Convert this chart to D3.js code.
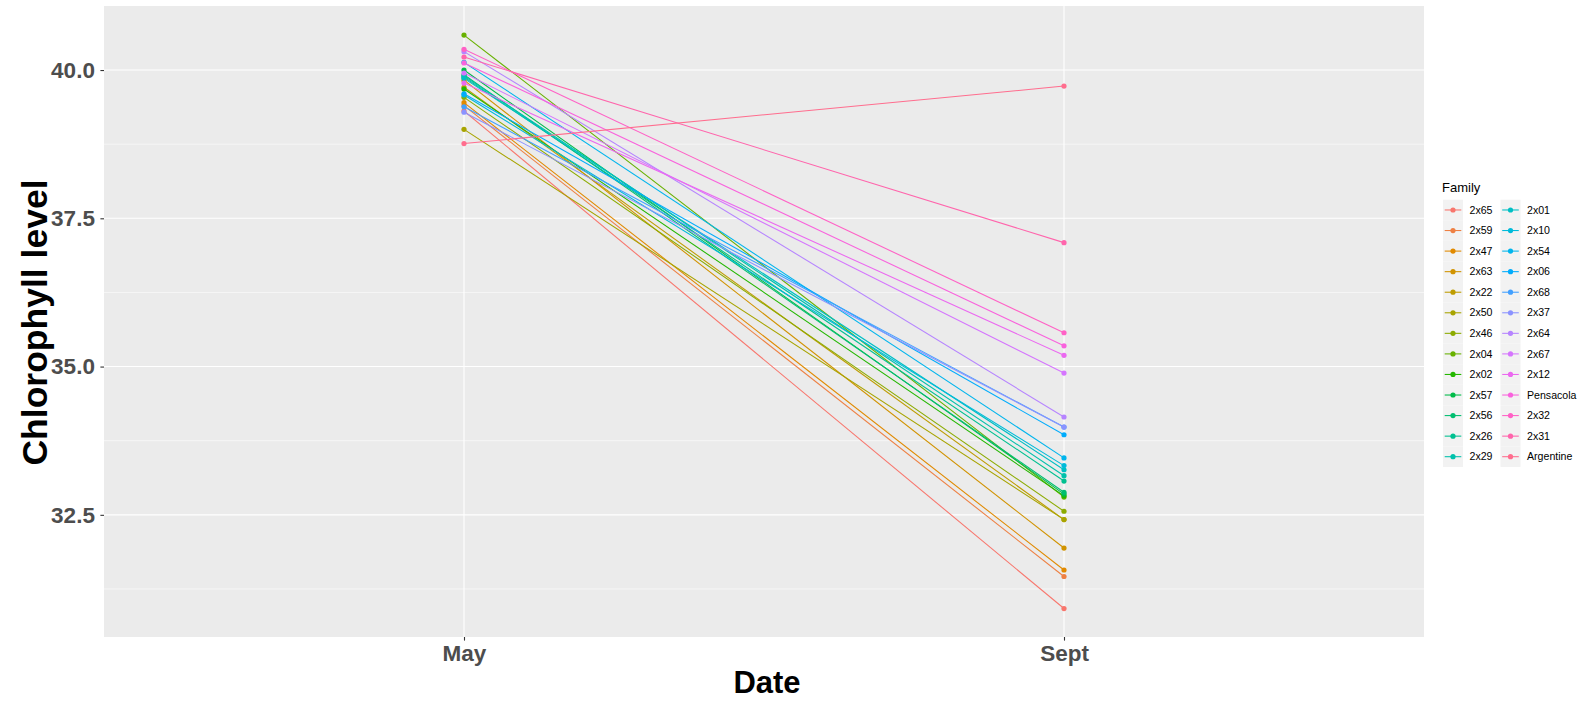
<!DOCTYPE html>
<html>
<head>
<meta charset="utf-8">
<script src="https://cdn.jsdelivr.net/npm/d3@7"></script>
<style>
  html, body { margin: 0; padding: 0; background: #ffffff; }
  svg { display: block; }
  text { font-family: "Liberation Sans", Arial, sans-serif; }
</style>
</head>
<body>
<svg id="chart" width="1589" height="701"></svg>
<script>
// ---------------- data ----------------
const families = ["2x65","2x59","2x47","2x63","2x22","2x50","2x46","2x04","2x02","2x57","2x56","2x26","2x29",
                  "2x01","2x10","2x54","2x06","2x68","2x37","2x64","2x67","2x12","Pensacola","2x32","2x31","Argentine"];
const dates = ["May", "Sept"];
const mayValues  = [39.31, 39.40, 39.45, 39.83, 39.71, 39.00, 39.54, 40.59, 39.68, 40.00, 39.92, 39.88, 39.90,
                    39.86, 39.58, 40.13, 39.60, 39.38, 39.29, 40.31, 39.95, 39.78, 40.12, 40.35, 40.22, 38.76];
const septValues = [30.92, 31.46, 31.57, 31.94, 32.42, 32.42, 32.56, 32.80, 32.82, 32.85, 32.88, 33.07, 33.16,
                    33.26, 33.33, 33.46, 33.85, 33.98, 33.98, 34.15, 34.89, 35.19, 35.35, 35.57, 37.09, 39.73];
const yTicks = [32.5, 35.0, 37.5, 40.0];
const yMinorTicks = [31.25, 33.75, 36.25, 38.75];
const xTitle = "Date";
const yTitle = "Chlorophyll level";
const legendTitle = "Family";

// ggplot2 hue palette (polar LUV -> sRGB)
function hclLuv(h, c, l) {
  const Xn = 95.047, Yn = 100.0, Zn = 108.883;
  const Y = l > 7.999592 ? Yn * Math.pow((l + 16) / 116, 3) : Yn * l / 903.3;
  const hr = h * Math.PI / 180;
  const U = c * Math.cos(hr), V = c * Math.sin(hr);
  const den = Xn + 15 * Yn + 3 * Zn;
  const uN = 4 * Xn / den, vN = 9 * Yn / den;
  const u = U / (13 * l) + uN, v = V / (13 * l) + vN;
  const X = 9 * Y * u / (4 * v);
  const Z = -X / 3 - 5 * Y + 3 * Y / v;
  const x = X / 100, y = Y / 100, z = Z / 100;
  let r = 3.240479 * x - 1.537150 * y - 0.498535 * z;
  let g = -0.969256 * x + 1.875992 * y + 0.041556 * z;
  let b = 0.055648 * x - 0.204043 * y + 1.057311 * z;
  const gam = t => t <= 0.0031308 ? 12.92 * t : 1.055 * Math.pow(t, 1 / 2.4) - 0.055;
  const cl = t => Math.max(0, Math.min(1, gam(t)));
  return d3.rgb(cl(r) * 255, cl(g) * 255, cl(b) * 255).formatHex();
}
const n = families.length;
const palette = families.map((f, i) => hclLuv(15 + i * 360 / n, 100, 65));
const color = d3.scaleOrdinal().domain(families).range(palette);

const rows = families.map((f, i) => ({ family: f, values: [mayValues[i], septValues[i]] }));

// ---------------- layout ----------------
const svg = d3.select("#chart");
const panel = { left: 104, right: 1424, top: 6, bottom: 637 };

const x = d3.scalePoint().domain(dates).range([panel.left, panel.right]).padding(0.6);
const y = d3.scaleLinear().domain([30.44, 41.08]).range([panel.bottom, panel.top]);

// panel background
svg.append("rect")
  .attr("x", panel.left).attr("y", panel.top)
  .attr("width", panel.right - panel.left).attr("height", panel.bottom - panel.top)
  .attr("fill", "#EBEBEB");

// minor grid
svg.append("g").selectAll("line").data(yMinorTicks).join("line")
  .attr("x1", panel.left).attr("x2", panel.right)
  .attr("y1", d => y(d)).attr("y2", d => y(d))
  .attr("stroke", "#ffffff").attr("stroke-width", 0.55);

// major grid
svg.append("g").selectAll("line").data(yTicks).join("line")
  .attr("x1", panel.left).attr("x2", panel.right)
  .attr("y1", d => y(d)).attr("y2", d => y(d))
  .attr("stroke", "#ffffff").attr("stroke-width", 1.1);
svg.append("g").selectAll("line").data(dates).join("line")
  .attr("x1", d => x(d)).attr("x2", d => x(d))
  .attr("y1", panel.top).attr("y2", panel.bottom)
  .attr("stroke", "#ffffff").attr("stroke-width", 1.1);

// lines
const line = d3.line().x((d, i) => x(dates[i])).y(d => y(d));
svg.append("g").selectAll("path").data(rows).join("path")
  .attr("d", d => line(d.values))
  .attr("fill", "none")
  .attr("stroke", d => color(d.family))
  .attr("stroke-width", 1.07);

// points
const pts = [];
rows.forEach(r => r.values.forEach((v, i) => pts.push({ family: r.family, date: dates[i], v })));
svg.append("g").selectAll("circle").data(pts).join("circle")
  .attr("cx", d => x(d.date)).attr("cy", d => y(d.v))
  .attr("r", 2.6)
  .attr("fill", d => color(d.family));

// axes
const yAxis = d3.axisLeft(y).tickValues(yTicks).tickFormat(d3.format(".1f")).tickSize(3.6).tickPadding(5.5);
const gy = svg.append("g").attr("transform", `translate(${panel.left},0)`).call(yAxis);
gy.select(".domain").remove();
gy.selectAll("line").attr("stroke", "#333333").attr("stroke-width", 1.1);
gy.selectAll("text").attr("fill", "#4D4D4D").attr("font-size", 22.5).attr("font-weight", "bold");

const xAxis = d3.axisBottom(x).tickSize(3.6).tickPadding(4);
const gx = svg.append("g").attr("transform", `translate(0,${panel.bottom})`).call(xAxis);
gx.select(".domain").remove();
gx.selectAll("line").attr("stroke", "#333333").attr("stroke-width", 1.1);
gx.selectAll("text").attr("fill", "#4D4D4D").attr("font-size", 22.5).attr("font-weight", "bold");

// axis titles
svg.append("text")
  .attr("x", (panel.left + panel.right) / 2 + 3).attr("y", 693)
  .attr("text-anchor", "middle")
  .attr("font-size", 31).attr("font-weight", "bold").attr("fill", "#000")
  .text(xTitle);
svg.append("text")
  .attr("transform", `translate(47,${(panel.top + panel.bottom) / 2 + 1}) rotate(-90)`)
  .attr("text-anchor", "middle")
  .attr("font-size", 35.5).attr("font-weight", "bold").attr("fill", "#000")
  .text(yTitle);

// legend
const leg = svg.append("g");
leg.append("text").attr("x", 1442).attr("y", 192)
  .attr("font-size", 13).attr("fill", "#000").text(legendTitle);
const perCol = Math.ceil(n / 2);
const keyW = 20, keyH = 20.56, keyTop = 199.7;
const colX = [1443, 1500.5];
const item = leg.selectAll("g.item").data(families).join("g").attr("class", "item")
  .attr("transform", (d, i) => `translate(${colX[Math.floor(i / perCol)]},${keyTop + (i % perCol) * keyH})`);
item.append("rect").attr("width", keyW).attr("height", keyH).attr("fill", "#F2F2F2");
item.append("line").attr("x1", 1.7).attr("x2", keyW - 1.7)
  .attr("y1", keyH / 2).attr("y2", keyH / 2)
  .attr("stroke", d => color(d)).attr("stroke-width", 1.07);
item.append("circle").attr("cx", keyW / 2).attr("cy", keyH / 2).attr("r", 2.6)
  .attr("fill", d => color(d));
item.append("text").attr("x", keyW + 6.5).attr("y", keyH / 2).attr("dy", "0.35em")
  .attr("font-size", 10.6).attr("fill", "#000").text(d => d);
</script>
</body>
</html>
